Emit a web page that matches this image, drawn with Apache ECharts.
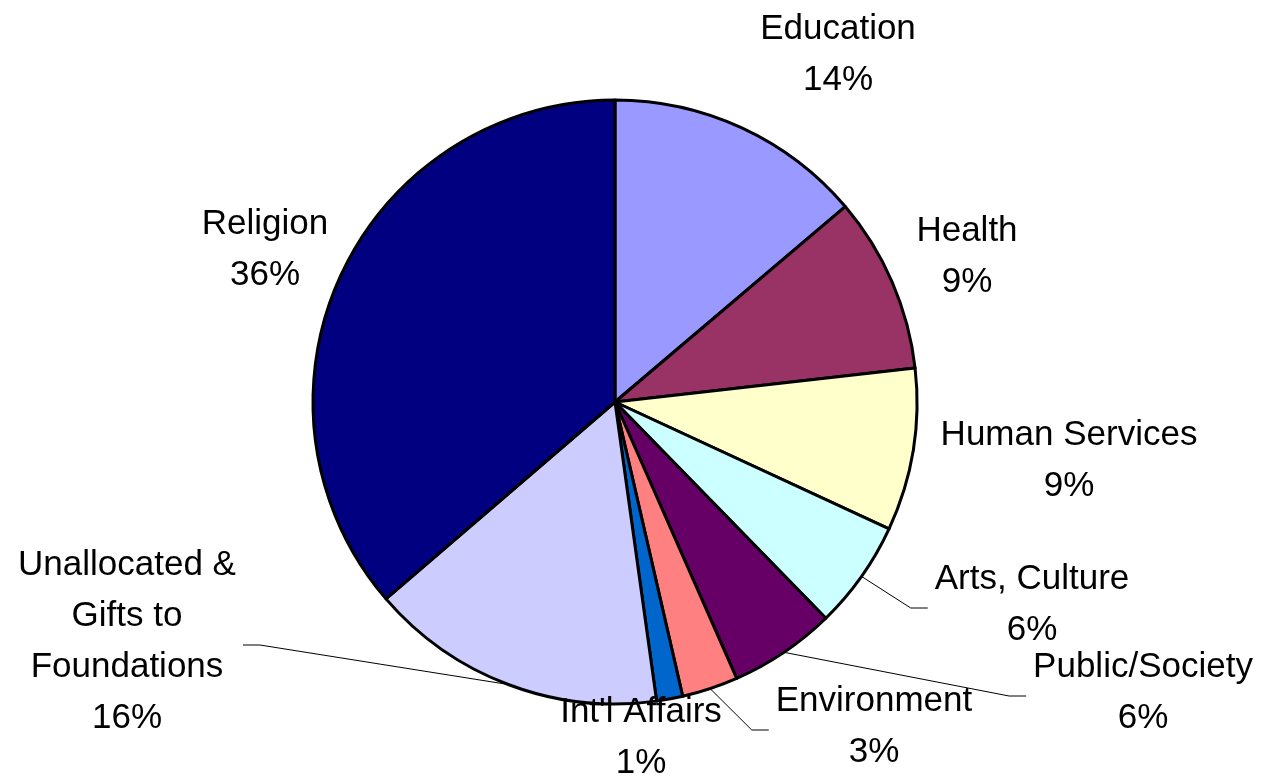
<!DOCTYPE html>
<html>
<head>
<meta charset="utf-8">
<script src="https://cdn.jsdelivr.net/npm/echarts@6/dist/echarts.min.js"></script>
<style>
html,body{margin:0;padding:0;background:#fff;}
#chart{width:1268px;height:777px;}
</style>
</head>
<body>
<div id="chart"></div>
<script>
// ---- data ----
const categories = ["Education", "Health", "Human Services", "Arts, Culture", "Public/Society", "Environment", "Int'l Affairs", "Unallocated &\nGifts to\nFoundations", "Religion"];
const values = [13.8, 9.4, 8.7, 5.8, 5.7, 3.0, 1.4, 15.9, 36.3];
const colors = ["#9999FF", "#993366", "#FFFFCC", "#CCFFFF", "#660066", "#FF8080", "#0066CC", "#CCCCFF", "#000080"];

// ---- label layout (label anchor = block centre; side = where the leader line attaches) ----
const labelLayoutTable = [
  {x: 838, y: 55, side: null},
  {x: 967, y: 257, side: null},
  {x: 1069, y: 461, side: null},
  {x: 1032, y: 605, side: 'left'},
  {x: 1143, y: 693, side: 'left'},
  {x: 874, y: 727, side: 'left'},
  {x: 641, y: 738, side: null},
  {x: 127, y: 642, side: 'right'},
  {x: 265, y: 250, side: null}
];

const chart = echarts.init(document.getElementById('chart'));
const seriesData = categories.map((c, i) => ({
  name: c,
  value: values[i],
  itemStyle: {color: colors[i]},
  labelLine: {show: labelLayoutTable[i].side !== null}
}));

chart.setOption({
  animation: false,
  series: [{
    type: 'pie',
    center: [615, 402],
    radius: 302,
    startAngle: 90,
    clockwise: true,
    avoidLabelOverlap: false,
    itemStyle: {borderColor: '#000', borderWidth: 3},
    label: {
      show: true,
      formatter: p => p.name + '\n' + Math.round(p.percent) + '%',
      fontFamily: 'Liberation Sans, Arial, sans-serif',
      fontSize: 35,
      lineHeight: 51,
      color: '#000',
      align: 'center'
    },
    labelLine: {show: true, lineStyle: {color: '#000', width: 1}, length: 10, length2: 10},
    labelLayout: function (params) {
      const L = labelLayoutTable[params.dataIndex];
      const res = {x: L.x, y: L.y, align: 'center', verticalAlign: 'middle'};
      if (L.side && params.labelLinePoints) {
        const p0 = params.labelLinePoints[0];
        const w = params.labelRect.width;
        const ly = L.y + 3;
        if (L.side === 'left') {
          const ex = L.x - w / 2 - 7;
          res.labelLinePoints = [p0, [ex - 17, ly], [ex, ly]];
        } else {
          const ex = L.x + w / 2 + 7;
          res.labelLinePoints = [p0, [ex + 17, ly], [ex, ly]];
        }
      }
      return res;
    },
    data: seriesData
  }]
});
</script>
</body>
</html>
